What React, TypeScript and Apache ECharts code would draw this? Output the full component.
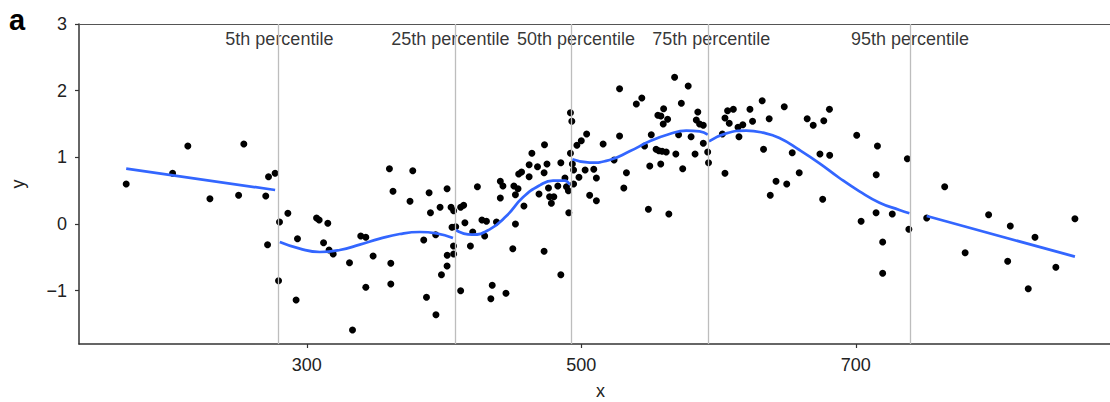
import React, { useEffect, useRef } from "react";
import * as echarts from "echarts";

const pointX = [
  168.4, 202.2, 213.3, 254.1, 229.4, 250.3, 270.1, 272.1, 276.9, 271.4,
  280.1, 279.4, 286.2, 293.2, 292.2, 307.1, 309.0, 315.3, 312.2, 316.2,
  319.2, 331.1, 333.3, 339.3, 343.0, 348.3, 343.0, 360.2, 362.8, 361.2,
  361.2, 377.2, 375.2, 389.1, 390.1, 397.1, 402.2, 405.1, 407.0, 385.2,
  393.9, 405.8, 408.5, 406.9, 402.3, 407.0, 402.2, 398.1, 387.2, 394.1,
  412.1, 412.1, 414.3, 415.2, 420.9, 419.2, 424.3, 427.6, 430.9, 429.6,
  438.2, 435.1, 434.1, 445.1, 441.0, 442.9, 441.0, 450.1, 450.9, 453.9,
  452.0, 452.0, 454.4, 456.5, 458.2, 462.0, 462.0, 464.0, 468.1, 469.2,
  473.2, 472.9, 475.0, 476.1, 476.9, 480.0, 478.2, 472.9, 485.1, 482.9,
  488.1, 489.2, 490.6, 490.9, 485.1, 492.1, 493.1, 492.1, 493.5, 494.4,
  494.4, 498.3, 496.8, 500.0, 503.9, 502.8, 509.1, 511.0, 506.1, 511.0,
  515.9, 527.9, 527.9, 523.9, 532.9, 531.0, 540.1, 544.1, 551.0, 546.1,
  549.9, 548.9, 555.8, 558.0, 560.0, 562.9, 559.7, 554.5, 556.5, 558.9,
  561.9, 557.9, 563.8, 568.9, 573.9, 568.0, 577.9, 572.9, 570.9, 580.0,
  582.9, 584.9, 583.8, 586.2, 588.9, 588.9, 592.1, 592.7, 602.8, 604.7,
  604.7, 606.6, 610.8, 607.8, 614.2, 617.7, 614.9, 622.9, 624.8, 631.8,
  636.9, 632.8, 647.9, 653.7, 641.9, 637.7, 649.7, 658.8, 664.6, 669.0,
  676.7, 680.8, 673.9, 681.0, 675.9, 700.7, 715.8, 714.9, 714.8, 703.9,
  726.6, 719.6, 719.6, 737.6, 738.7, 751.7, 764.8, 779.7, 796.8, 812.6,
  810.7, 830.6, 825.7, 845.8, 859.7,
];

const pointY = [
  0.6, 0.76, 1.17, 1.2, 0.38, 0.43, 0.42, 0.71, 0.76, -0.31,
  0.03, -0.85, 0.16, -0.22, -1.14, 0.09, 0.06, 0.01, -0.28, -0.39,
  -0.45, -0.58, -1.59, -0.18, -0.2, -0.48, -0.95, 0.83, 0.49, -0.59,
  -0.9, 0.8, 0.34, 0.47, 0.17, 0.25, 0.53, 0.25, 0.2, -0.24,
  -0.16, -0.05, -0.04, -0.33, -0.47, -0.45, -0.63, -0.76, -1.1, -1.36,
  -1.0, 0.25, 0.28, 0.02, -0.12, -0.33, 0.56, 0.06, 0.04, -0.18,
  0.03, -0.92, -1.12, -1.04, 0.64, 0.57, 0.39, -0.37, 0.57, 0.53,
  0.44, 0.0, 0.75, 0.78, 0.27, 0.89, 0.71, 1.06, 0.86, 0.45,
  1.19, 0.77, 0.9, 0.54, 0.41, 0.41, 0.31, -0.41, 0.92, 0.57,
  0.69, 0.56, 0.5, 0.17, -0.76, 1.67, 1.54, 1.06, 0.9, 0.81,
  0.6, 0.7, 1.18, 1.25, 1.35, 0.81, 0.82, 0.69, 0.43, 0.35,
  1.2, 2.03, 1.32, 0.96, 0.77, 0.54, 1.8, 1.89, 1.34, 1.17,
  0.87, 0.22, 1.63, 1.62, 1.73, 1.57, 1.5, 1.12, 1.1, 1.09,
  1.08, 0.9, 0.15, 1.05, 0.83, 2.2, 2.07, 1.81, 1.34, 1.31,
  1.05, 1.68, 1.56, 1.5, 1.48, 1.21, 1.08, 0.92, 1.35, 0.76,
  1.59, 1.7, 1.72, 1.51, 1.45, 1.49, 1.31, 1.72, 1.54, 1.85,
  1.58, 1.12, 1.76, 1.07, 0.64, 0.43, 0.6, 0.77, 1.58, 1.48,
  1.55, 1.72, 1.05, 1.03, 0.37, 1.33, 1.17, 0.74, 0.17, 0.04,
  0.15, -0.27, -0.74, 0.98, -0.08, 0.09, 0.56, -0.43, 0.14, -0.03,
  -0.56, -0.2, -0.97, -0.65, 0.08,
];

const fit1X = [168.4, 276.9];
const fit1Y = [0.83, 0.51];
const fit2X = [280.3, 294.9, 309.5, 324.0, 338.6, 353.2, 367.7, 382.3, 394.4, 406.5];
const fit2Y = [-0.27, -0.37, -0.42, -0.39, -0.31, -0.22, -0.15, -0.12, -0.14, -0.21];
const fit3X = [408.3, 420.5, 433.3, 445.4, 457.5, 469.7, 479.4, 487.9, 491.5];
const fit3Y = [-0.09, -0.16, -0.08, 0.12, 0.4, 0.58, 0.65, 0.65, 0.59];
const fit4X = [493.5, 506.1, 520.6, 535.2, 549.8, 564.3, 576.5, 586.2, 592.2];
const fit4Y = [0.97, 0.92, 0.96, 1.09, 1.24, 1.35, 1.4, 1.39, 1.34];
const fit5X = [593.0, 605.6, 620.2, 632.3, 644.4, 659.0, 673.6, 688.1, 702.7, 717.3, 731.8, 739.1];
const fit5Y = [1.24, 1.36, 1.4, 1.37, 1.29, 1.11, 0.91, 0.69, 0.49, 0.32, 0.21, 0.16];
const fit6X = [751.7, 859.7];
const fit6Y = [0.12, -0.49];

const percentileNames = ["5th percentile", "25th percentile", "50th percentile", "75th percentile", "95th percentile"];
const percentileX = [279.1, 408.3, 492.5, 592.5, 739.6];
const percentileLabelX = [280.0, 404.6, 496.1, 594.7, 739.5];
const percentileLabelY = 2.78;

const xTicks = [300, 500, 700];
const yTicks = [-1, 0, 1, 2, 3];

const FONT = "'Liberation Sans', Arial, Helvetica, sans-serif";

function zip(xs: number[], ys: number[]) {
  const n = Math.min(xs.length, ys.length);
  const out: number[][] = [];
  for (let i = 0; i < n; i++) out.push([xs[i], ys[i]]);
  return out;
}

export default function App() {
  const ref = useRef<HTMLDivElement>(null);
  useEffect(() => {
    if (!ref.current) return;
    const chart = echarts.init(ref.current, null, { renderer: "svg" });
    const fits = [
      [fit1X, fit1Y, false],
      [fit2X, fit2Y, true],
      [fit3X, fit3Y, true],
      [fit4X, fit4Y, true],
      [fit5X, fit5Y, true],
      [fit6X, fit6Y, false],
    ] as [number[], number[], boolean][];
    chart.setOption({
      animation: false,
      grid: { left: 79, top: 24, bottom: 58, right: -12, containLabel: false, outerBoundsMode: "none" },
      graphic: [
        {
          type: "text",
          left: 9,
          top: 5,
          style: { text: "a", font: `bold 29px ${FONT}`, fill: "#000" },
        },
      ],
      xAxis: [
        {
          type: "value",
          min: 134,
          max: 894,
          position: "bottom",
          name: "x",
          nameLocation: "middle",
          nameGap: 38,
          nameTextStyle: { fontSize: 18, lineHeight: 18, color: "#222", fontFamily: FONT },
          axisLine: { show: true, onZero: false, lineStyle: { color: "#333", width: 1.5 } },
          axisTick: { show: true, customValues: xTicks, length: 4, lineStyle: { color: "#333", width: 1.2 } },
          axisLabel: { customValues: xTicks, margin: 12, fontSize: 18, color: "#222", fontFamily: FONT },
          splitLine: { show: false },
        },
        {
          type: "value",
          min: 134,
          max: 894,
          position: "top",
          axisLine: { show: true, onZero: false, lineStyle: { color: "#555", width: 1.2 } },
          axisTick: { show: false },
          axisLabel: { show: false },
          splitLine: { show: false },
        },
      ],
      yAxis: {
        type: "value",
        min: -1.8,
        max: 3,
        name: "y",
        nameLocation: "middle",
        nameGap: 52,
        nameTextStyle: { fontSize: 18, color: "#222", fontFamily: FONT },
        axisLine: { show: true, onZero: false, lineStyle: { color: "#333", width: 1.5 } },
        axisTick: { show: true, customValues: yTicks, length: 4, lineStyle: { color: "#333", width: 1.2 } },
        axisLabel: {
          customValues: yTicks,
          margin: 12,
          fontSize: 18,
          color: "#222",
          fontFamily: FONT,
          formatter: (v: number) => (v < 0 ? "\u2212" + Math.abs(v) : String(v)),
        },
        splitLine: { show: false },
      },
      series: [
        {
          type: "line",
          data: [],
          z: 1,
          silent: true,
          markLine: {
            silent: true,
            symbol: ["none", "none"],
            label: { show: false },
            lineStyle: { color: "#bdbdbd", width: 1.3, type: "solid" },
            data: percentileX.map((v) => ({ xAxis: v })),
          },
        },
        {
          type: "scatter",
          data: zip(pointX, pointY),
          symbol: "circle",
          symbolSize: 7,
          itemStyle: { color: "#000", opacity: 1 },
          z: 2,
          silent: true,
        },
        ...fits.map(([xs, ys, sm]) => ({
          type: "line",
          data: zip(xs, ys),
          smooth: sm ? 0.5 : false,
          showSymbol: false,
          lineStyle: { color: "#3366FF", width: 2.7 },
          z: 3,
          silent: true,
        })),
        {
          type: "scatter",
          data: percentileNames.map((n, i) => ({ name: n, value: [percentileLabelX[i], percentileLabelY] })),
          symbolSize: 1,
          itemStyle: { color: "rgba(0,0,0,0)" },
          label: {
            show: true,
            position: "inside",
            formatter: "{b}",
            fontSize: 18,
            color: "#000",
            fontFamily: FONT,
          },
          z: 4,
          silent: true,
        },
      ],
    });
    return () => chart.dispose();
  }, []);
  return <div ref={ref} style={{ position: "absolute", left: 0, top: 0, width: 1110, height: 402 }} />;
}
